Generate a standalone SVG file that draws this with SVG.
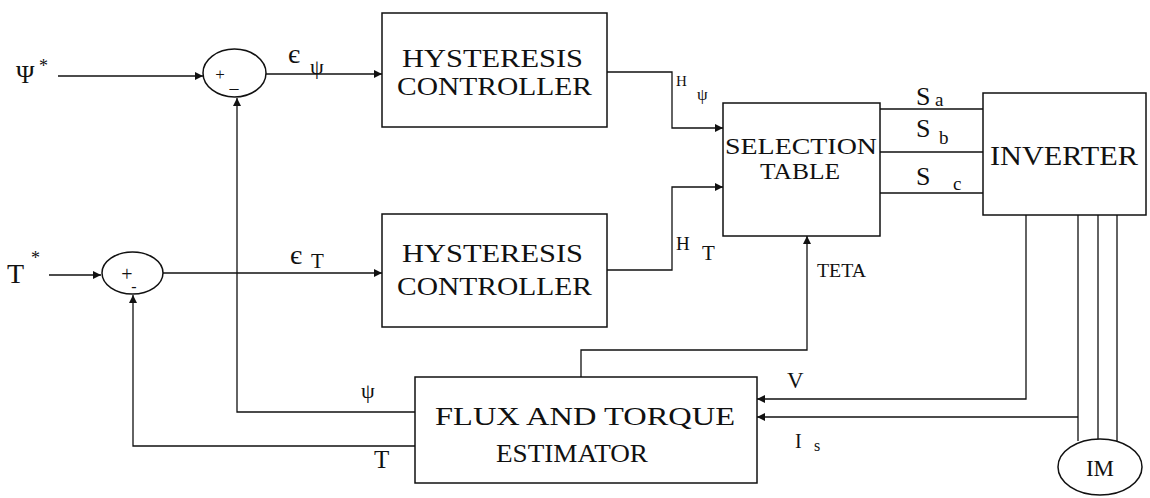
<svg xmlns="http://www.w3.org/2000/svg" width="1150" height="498" viewBox="0 0 1150 498">
<style>
.box{fill:#fff;stroke:#111;stroke-width:1.5}
.ln{fill:none;stroke:#111;stroke-width:1.3}
.t{font-family:"Liberation Serif","DejaVu Serif",serif;fill:#111}
</style>
<defs>
<marker id="ar" viewBox="0 0 10 10" refX="10" refY="5" markerWidth="10" markerHeight="8" markerUnits="userSpaceOnUse" orient="auto">
<path d="M0,0 L10,5 L0,10 z" fill="#111"/>
</marker>
</defs>
<rect width="1150" height="498" fill="#fff"/>
<g id="connectors">
<path class="ln" d="M58,76 H203" marker-end="url(#ar)"/>
<path class="ln" d="M266,74 H382" marker-end="url(#ar)"/>
<path class="ln" d="M49,275 H101" marker-end="url(#ar)"/>
<path class="ln" d="M163,273 H382" marker-end="url(#ar)"/>
<path class="ln" d="M415,412 H237 V98" marker-end="url(#ar)"/>
<path class="ln" d="M415,446 H133 V295" marker-end="url(#ar)"/>
<path class="ln" d="M607,72 H672 V128 H723" marker-end="url(#ar)"/>
<path class="ln" d="M607,270 H672 V187 H723" marker-end="url(#ar)"/>
<path class="ln" d="M581,377 V350 H807 V236" marker-end="url(#ar)"/>
<path class="ln" d="M880,109 H983 M880,152 H983 M880,193 H983"/>
<path class="ln" d="M1026,215 V399 H757" marker-end="url(#ar)"/>
<path class="ln" d="M1078,417 H757" marker-end="url(#ar)"/>
<path class="ln" d="M1078,215 V441 M1098,215 V439 M1117,215 V441"/>
</g>
<g id="sum1">
<ellipse class="box" cx="234.5" cy="73" rx="31.5" ry="24"/>
<text class="t" x="220" y="80" font-size="17" text-anchor="middle">+</text>
<text class="t" x="234" y="88" font-size="18" text-anchor="middle">_</text>
</g>
<g id="sum2">
<ellipse class="box" cx="132.5" cy="273" rx="30.5" ry="21"/>
<text class="t" x="127" y="281" font-size="20" text-anchor="middle">+</text>
<text class="t" x="134" y="292" font-size="16" text-anchor="middle">-</text>
</g>
<g id="hyst1">
<rect class="box" x="382" y="13" width="225" height="114"/>
<text class="t" x="402" y="67" font-size="26" textLength="181" lengthAdjust="spacingAndGlyphs">HYSTERESIS</text>
<text class="t" x="397" y="95" font-size="26" textLength="195" lengthAdjust="spacingAndGlyphs">CONTROLLER</text>
</g>
<g id="hyst2">
<rect class="box" x="382" y="214" width="225" height="113"/>
<text class="t" x="402" y="262" font-size="26" textLength="181" lengthAdjust="spacingAndGlyphs">HYSTERESIS</text>
<text class="t" x="397" y="295" font-size="26" textLength="195" lengthAdjust="spacingAndGlyphs">CONTROLLER</text>
</g>
<g id="selection">
<rect class="box" x="723" y="103" width="157" height="133"/>
<text class="t" x="725" y="154" font-size="23" textLength="152" lengthAdjust="spacingAndGlyphs">SELECTION</text>
<text class="t" x="760" y="179" font-size="23" textLength="80" lengthAdjust="spacingAndGlyphs">TABLE</text>
</g>
<g id="inverter">
<rect class="box" x="983" y="93" width="163" height="122"/>
<text class="t" x="990" y="165" font-size="27" textLength="148" lengthAdjust="spacingAndGlyphs">INVERTER</text>
</g>
<g id="estimator">
<rect class="box" x="415" y="377" width="342" height="106"/>
<text class="t" x="435" y="425" font-size="25" textLength="300" lengthAdjust="spacingAndGlyphs">FLUX AND TORQUE</text>
<text class="t" x="496" y="462" font-size="25" textLength="152" lengthAdjust="spacingAndGlyphs">ESTIMATOR</text>
</g>
<g id="motor">
<ellipse class="box" cx="1100" cy="467" rx="42" ry="28"/>
<text class="t" x="1100" y="476" font-size="23" text-anchor="middle">IM</text>
</g>
<g id="labels">
<text class="t" x="16" y="83" font-size="25">Ψ</text>
<text class="t" x="39" y="72" font-size="18">*</text>
<text class="t" x="7" y="283" font-size="28">T</text>
<text class="t" x="31" y="264" font-size="18">*</text>
<text class="t" x="288" y="63" font-size="28">є</text>
<text class="t" x="310" y="74" font-size="22">ψ</text>
<text class="t" x="290" y="264" font-size="28">є</text>
<text class="t" x="311" y="268" font-size="21">T</text>
<text class="t" x="676" y="86" font-size="15">H</text>
<text class="t" x="697" y="100" font-size="17">ψ</text>
<text class="t" x="676" y="250" font-size="19">H</text>
<text class="t" x="702" y="260" font-size="21">T</text>
<text class="t" x="817" y="277" font-size="19" textLength="49" lengthAdjust="spacingAndGlyphs">TETA</text>
<text class="t" x="916" y="105" font-size="26">S</text>
<text class="t" x="935" y="106" font-size="19">a</text>
<text class="t" x="916" y="137" font-size="26">S</text>
<text class="t" x="939" y="144" font-size="19">b</text>
<text class="t" x="916" y="185" font-size="26">S</text>
<text class="t" x="953" y="190" font-size="19">c</text>
<text class="t" x="787" y="388" font-size="23">V</text>
<text class="t" x="795" y="448" font-size="20">I</text>
<text class="t" x="814" y="451" font-size="16">s</text>
<text class="t" x="361" y="398" font-size="22">ψ</text>
<text class="t" x="374" y="468" font-size="25">T</text>
</g>
</svg>
